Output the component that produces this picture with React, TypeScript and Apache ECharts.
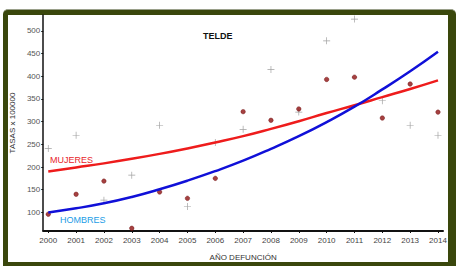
import React, { useEffect, useRef } from "react";
import * as echarts from "echarts";

const years = [2000, 2001, 2002, 2003, 2004, 2005, 2006, 2007, 2008, 2009, 2010, 2011, 2012, 2013, 2014];
const yTicks = [100, 150, 200, 250, 300, 350, 400, 450, 500];
// observed rates
const mujeresObs = [241, 270, 127, 182, 292, 113, 254, 283, 415, 321, 478, 526, 346, 292, 270];
const hombresObs = [96, 140, 169, 65, 145, 131, 175, 322, 303, 328, 393, 398, 308, 383, 321];
// fitted trend curves
const mujeresFit = [190, 199, 208, 218, 229, 241, 254, 268, 284, 301, 319, 336, 354, 372, 391];
const hombresFit = [100, 109, 120, 134, 151, 170, 191, 214, 240, 268, 299, 333, 371, 411, 454];

export default function App() {
  const ref = useRef<HTMLDivElement>(null);
  useEffect(() => {
    if (!ref.current) return;
    const chart = echarts.init(ref.current, null, { renderer: "svg" });
    const font = "'Liberation Sans', Arial, sans-serif";
    chart.setOption({
      animation: false,
      backgroundColor: "transparent",
      grid: { left: 40, right: 13, top: 15, bottom: 32 },
      title: {
        text: "TELDE",
        left: 198,
        top: 26,
        textStyle: { fontFamily: font, fontSize: 9, fontWeight: "bold", color: "#111" },
      },
      xAxis: {
        type: "value",
        min: 1999.82,
        max: 2014.18,
        name: "AÑO DEFUNCIÓN",
        nameLocation: "middle",
        nameGap: 22,
        nameTextStyle: { fontFamily: font, fontSize: 8, color: "#333" },
        axisLine: { show: true, lineStyle: { color: "#111", width: 2 } },
        axisTick: { show: true, length: 2, lineStyle: { color: "#111" }, customValues: years },
        axisLabel: {
          fontFamily: font,
          fontSize: 8,
          color: "#444",
          margin: 5,
          customValues: years,
          formatter: (v: number) => String(Math.round(v)),
        },
        splitLine: { show: false },
      },
      yAxis: {
        type: "value",
        min: 59,
        max: 535,
        name: "TASAS x 100000",
        nameLocation: "middle",
        nameGap: 19,
        nameRotate: 90,
        nameTextStyle: { fontFamily: font, fontSize: 8, color: "#333" },
        axisLine: { show: true, lineStyle: { color: "#111", width: 1.5 } },
        axisTick: { show: true, length: 2, lineStyle: { color: "#111" }, customValues: yTicks },
        axisLabel: {
          fontFamily: font,
          fontSize: 8,
          color: "#555",
          margin: 3,
          customValues: yTicks,
        },
        splitLine: { show: false },
      },
      graphic: [
        {
          type: "text",
          left: 50,
          top: 155,
          style: { text: "MUJERES", fill: "#e8262a", font: `9px ${font}` },
        },
        {
          type: "text",
          left: 60,
          top: 215,
          style: { text: "HOMBRES", fill: "#1b9de6", font: `9px ${font}` },
        },
      ],
      series: [
        {
          name: "Mujeres",
          type: "scatter",
          symbol: "path://M0,4.5h10v1h-10z M4.5,0h1v10h-1z",
          symbolSize: 7,
          itemStyle: { color: "#8a8a8a" },
          data: years.map((y, i) => [y, mujeresObs[i]]),
          z: 2,
        },
        {
          name: "Hombres",
          type: "scatter",
          symbol: "circle",
          symbolSize: 4.5,
          itemStyle: { color: "#8e1212", borderColor: "#6a0808", borderWidth: 0.5 },
          data: years.map((y, i) => [y, hombresObs[i]]),
          z: 3,
        },
        {
          name: "Mujeres ajuste",
          type: "line",
          smooth: true,
          showSymbol: false,
          lineStyle: { color: "#ee1c1c", width: 2.5 },
          data: years.map((y, i) => [y, mujeresFit[i]]),
          z: 4,
        },
        {
          name: "Hombres ajuste",
          type: "line",
          smooth: true,
          showSymbol: false,
          lineStyle: { color: "#1010d8", width: 2.5 },
          data: years.map((y, i) => [y, hombresFit[i]]),
          z: 5,
        },
      ],
    });
    return () => chart.dispose();
  }, []);

  return (
    <div style={{ position: "fixed", left: 0, top: 0, width: 456, height: 266, background: "#fff" }}>
      <div
        style={{
          position: "absolute",
          left: 3,
          top: 9,
          width: 453,
          height: 257,
          background: "#3a470c",
          borderTop: "1px solid #9aa08a",
          borderRadius: "5px 5px 0 0",
          boxSizing: "border-box",
        }}
      />
      <div style={{ position: "absolute", left: 8, top: 15, width: 440, height: 247, background: "#fff" }} />
      <div ref={ref} style={{ position: "absolute", left: 0, top: 0, width: 456, height: 266 }} />
    </div>
  );
}
